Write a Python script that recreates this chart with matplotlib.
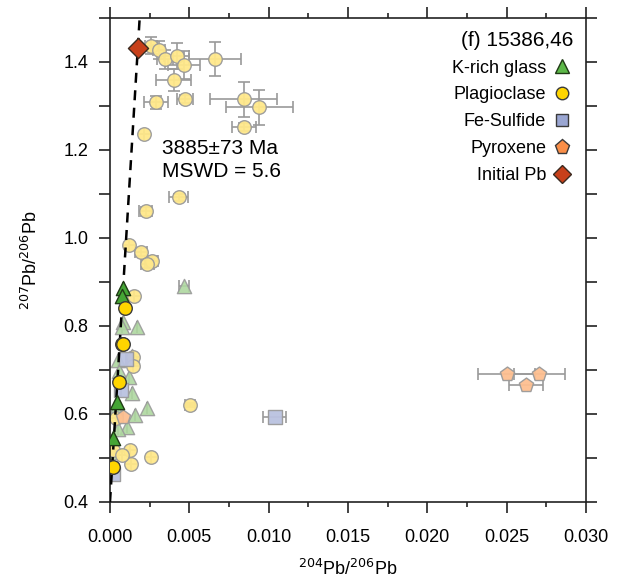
import matplotlib.pyplot as plt
from matplotlib.lines import Line2D
from matplotlib.ticker import MultipleLocator

plt.rcParams['font.family'] = ['Liberation Sans', 'DejaVu Sans']

# plagioclase (not in isochron) : x, y, xerr, yerr
plag_x = [0.00258, 0.00309, 0.00347, 0.00420, 0.00468, 0.00663, 0.00403, 0.00292, 0.00475,
          0.00843, 0.00941, 0.00847, 0.00214, 0.00433, 0.00225, 0.00122, 0.00196, 0.00262,
          0.00235, 0.00151, 0.00147, 0.00147, 0.00505, 0.00126, 0.00258, 0.00130, 0.00022,
          0.00073, 0.00038]
plag_y = [1.437, 1.427, 1.406, 1.414, 1.393, 1.407, 1.359, 1.308, 1.316,
          1.315, 1.297, 1.252, 1.237, 1.092, 1.061, 0.984, 0.968, 0.948,
          0.941, 0.867, 0.730, 0.709, 0.620, 0.518, 0.503, 0.486, 0.518,
          0.507, 0.590]
plag_xerr = [0.0004, 0.0004, 0.0005, 0.0008, 0.0010, 0.00165, 0.0011, 0.00075, 0.0005,
             0.0021, 0.0021, 0.00075, 0.0, 0.0006, 0.0004, 0.0, 0.0004, 0.0004,
             0.0004, 0.0, 0.0, 0.0, 0.0003, 0.0, 0.0, 0.0, 0.0,
             0.0, 0.0]
plag_yerr = [0.02, 0.02, 0.022, 0.03, 0.032, 0.038, 0.025, 0.015, 0.01,
             0.04, 0.04, 0.01, 0.0, 0.008, 0.01, 0.0, 0.01, 0.01,
             0.01, 0.0, 0.0, 0.0, 0.005, 0.0, 0.0, 0.0, 0.0,
             0.0, 0.0]

# plagioclase used in isochron
plag_iso_x = [0.00092, 0.00075, 0.00079, 0.00059, 0.00016]
plag_iso_y = [0.840, 0.759, 0.760, 0.673, 0.479]

# K-rich glass used in isochron
glass_iso_x = [0.00080, 0.00077, 0.00042, 0.00021]
glass_iso_y = [0.886, 0.867, 0.628, 0.545]

# K-rich glass (not in isochron)
glass_x = [0.00466, 0.00084, 0.00073, 0.00168, 0.00137, 0.00053, 0.00059, 0.00122,
           0.00137, 0.00231, 0.00157, 0.00110, 0.00053, 0.00038, 0.00010]
glass_y = [0.891, 0.810, 0.797, 0.798, 0.732, 0.723, 0.698, 0.683,
           0.647, 0.613, 0.598, 0.570, 0.567, 0.613, 0.514]
glass_xerr = [0.0003] + [0.0] * 14

# Fe-sulfide
sulf_x = [0.01039, 0.00100, 0.00067, 0.00016]
sulf_y = [0.593, 0.724, 0.655, 0.463]
sulf_xerr = [0.00073, 0.0, 0.0, 0.0]

# pyroxene
pyx_x = [0.02500, 0.02705, 0.02622, 0.00084]
pyx_y = [0.691, 0.690, 0.666, 0.594]
pyx_xerr = [0.0018, 0.0016, 0.0011, 0.0]

# initial Pb
init_x = [0.00174]
init_y = [1.431]

# isochron
iso_intercept = 0.400
iso_slope = 588.0
iso_x = [0.0, 0.0019]

fig = plt.figure(figsize=(6.2, 5.79), dpi=100)
ax = fig.add_axes([0.1774, 0.133, 0.7677, 0.836])

ebar = dict(fmt='none', ecolor='#9a9a9a', elinewidth=1.2, capsize=4, capthick=1.2, zorder=1)
ax.errorbar(plag_x, plag_y, xerr=plag_xerr, yerr=plag_yerr, **ebar)
ax.errorbar(glass_x, glass_y, xerr=glass_xerr, **ebar)
ax.errorbar(sulf_x, sulf_y, xerr=sulf_xerr, **ebar)
ax.errorbar(pyx_x, pyx_y, xerr=pyx_xerr, **ebar)

ms = 95
ax.scatter(glass_x, glass_y, s=ms + 10, marker='^', c='#aed8a0', edgecolors='#9a9a9a',
           linewidths=1, alpha=0.9, zorder=2)
ax.scatter(plag_x, plag_y, s=ms, marker='o', c='#ffe88a', edgecolors='#9a9a9a',
           linewidths=1, alpha=0.95, zorder=2)
ax.scatter(sulf_x, sulf_y, s=ms, marker='s', c='#bac2e0', edgecolors='#9a9a9a',
           linewidths=1, alpha=0.95, zorder=2)
ax.scatter(pyx_x, pyx_y, s=ms + 20, marker='p', c='#fdbf90', edgecolors='#9a9a9a',
           linewidths=1, alpha=0.95, zorder=2)

iso_y = [iso_intercept + iso_slope * v for v in iso_x]
ax.plot(iso_x, iso_y, color='black', ls=(0, (4, 3)), lw=1.8, zorder=3)

ax.scatter(glass_iso_x, glass_iso_y, s=ms + 10, marker='^', c='#45a535', edgecolors='#1f3a15',
           linewidths=1, zorder=4)
ax.scatter(plag_iso_x, plag_iso_y, s=ms, marker='o', c='#ffd500', edgecolors='#3a3a3a',
           linewidths=1, zorder=4)
ax.scatter(init_x, init_y, s=ms + 10, marker='D', c='#c7401a', edgecolors='#3a2a20',
           linewidths=1, zorder=5)

ax.text(0.0033, 1.225, "3885±73 Ma\nMSWD = 5.6", fontsize=15, ha='left', va='top',
        linespacing=1.25)

ax.set_xlim(0, 0.030)
ax.set_ylim(0.4, 1.5)
ax.xaxis.set_major_locator(MultipleLocator(0.005))
ax.xaxis.set_minor_locator(MultipleLocator(0.0025))
ax.yaxis.set_major_locator(MultipleLocator(0.2))
ax.yaxis.set_minor_locator(MultipleLocator(0.1))
ax.xaxis.set_major_formatter(plt.FuncFormatter(lambda v, p: "%.3f" % v))
ax.yaxis.set_major_formatter(plt.FuncFormatter(lambda v, p: "%.1f" % v))
ax.tick_params(which='both', direction='out', top=True, right=True, labelsize=13,
               color='#222222', width=1.2)
ax.tick_params(axis='x', which='major', length=7.7, pad=12)
ax.tick_params(axis='x', which='minor', length=3.6)
ax.tick_params(axis='y', which='both', length=7.7, pad=8)
for s in ax.spines.values():
    s.set_color('#222222')
    s.set_linewidth(1.2)

ax.set_xlabel("$^{204}$Pb/$^{206}$Pb", fontsize=13, labelpad=9)
ax.set_ylabel("$^{207}$Pb/$^{206}$Pb", fontsize=13, labelpad=16)

handles = [
    Line2D([], [], ls='none', marker='^', ms=10, mfc='#5cb848', mec='#1f3a15'),
    Line2D([], [], ls='none', marker='o', ms=9, mfc='#ffd500', mec='#3a3a3a'),
    Line2D([], [], ls='none', marker='s', ms=9, mfc='#9aa6d2', mec='#3a3a3a'),
    Line2D([], [], ls='none', marker='p', ms=11, mfc='#f98e48', mec='#3a3a3a'),
    Line2D([], [], ls='none', marker='D', ms=9, mfc='#c7401a', mec='#3a2a20'),
]
labels = ["K-rich glass", "Plagioclase", "Fe-Sulfide", "Pyroxene", "Initial Pb"]
leg = ax.legend(handles, labels, loc='upper right', frameon=False, markerfirst=False,
                title="(f) 15386,46", title_fontsize=15, fontsize=13, alignment='right',
                handletextpad=0.3, labelspacing=0.55, borderaxespad=0.3, handlelength=1.2)

fig.savefig("out.png", dpi=100)
